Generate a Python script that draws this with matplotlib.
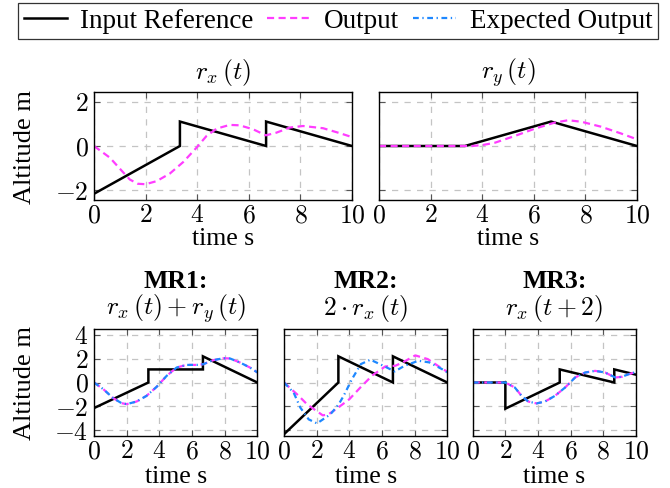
import matplotlib
matplotlib.use("Agg")
import matplotlib.pyplot as plt
from matplotlib.lines import Line2D

plt.rcParams["font.family"] = ["Liberation Serif", "DejaVu Serif"]
plt.rcParams["mathtext.fontset"] = "cm"
FS = 18.5

BLACK = "black"
MAGENTA = "#ff3dff"
BLUE = "#1e88ff"

# --- data ---
# r_x(t): input sawtooth and system output
rx_in_t = [0, 3.33, 3.33, 6.67, 6.67, 10]
rx_in_v = [-2.15, 0, 1.1, 0, 1.1, 0]
rx_out_t = [0, 0.62, 1.0, 1.39, 1.7, 2.0, 2.43, 2.94, 3.46, 3.97, 4.36, 4.75,
            5.26, 5.65, 6.17, 6.66, 7.07, 7.59, 8.1, 8.88, 9.52, 10]
rx_out_v = [0, -0.53, -1.02, -1.51, -1.70, -1.72, -1.58, -1.24, -0.72, -0.08, 0.45, 0.78,
            0.95, 0.93, 0.75, 0.48, 0.60, 0.83, 0.90, 0.80, 0.58, 0.40]

# r_y(t)
ry_in_t = [0, 3.33, 6.67, 10]
ry_in_v = [0, 0, 1.1, 0]
ry_out_t = [0, 3.6, 4.0, 4.5, 5.26, 6.04, 6.8, 7.33, 7.85, 8.6, 9.39, 10]
ry_out_v = [0, 0, 0.04, 0.15, 0.45, 0.78, 1.05, 1.16, 1.09, 0.87, 0.56, 0.30]

# MR1: r_x(t) + r_y(t)
mr1_in_t = [0, 3.33, 3.33, 6.67, 6.67, 10]
mr1_in_v = [-2.15, 0, 1.1, 1.1, 2.2, 0]
mr1_out_t = [0, 0.57, 1.18, 1.69, 2.0, 2.61, 3.22, 3.84, 4.45, 5.06, 5.67, 6.29,
             6.69, 7.31, 7.92, 8.33, 8.94, 9.55, 10]
mr1_out_v = [0, -0.56, -1.32, -1.74, -1.82, -1.6, -1.12, -0.36, 0.56, 1.26, 1.48, 1.48,
             1.54, 1.88, 2.04, 2.02, 1.68, 1.26, 0.85]
mr1_exp_t = mr1_out_t
mr1_exp_v = mr1_out_v

# MR2: 2 * r_x(t)
mr2_in_t = [0, 3.33, 3.33, 6.67, 6.67, 10]
mr2_in_v = [-4.35, 0, 2.2, 0, 2.2, 0]
mr2_out_t = [0, 0.86, 1.41, 2.37, 2.7, 3.18, 4.0, 4.73, 5.43, 6.2, 6.82, 7.27,
             8.04, 8.8, 9.67, 10]
mr2_out_v = [0, -1.07, -1.83, -2.76, -2.7, -2.25, -1.41, -0.34, 0.62, 1.35, 1.41, 1.69,
             2.28, 1.97, 1.18, 0.9]
mr2_exp_t = [0, 0.59, 1.0, 1.51, 2.02, 2.84, 3.35, 3.65, 4.16, 4.71, 5.29, 6.0,
             6.78, 7.39, 8.24, 8.9, 9.67, 10]
mr2_exp_v = [0, -0.85, -2.11, -3.1, -3.44, -2.68, -1.83, -1.13, 0.28, 1.55, 1.92, 1.46,
             0.93, 1.41, 1.83, 1.69, 1.13, 0.85]

# MR3: r_x(t + 2)
mr3_in_t = [0, 2, 2, 5.33, 5.33, 8.67, 8.67, 10]
mr3_in_v = [0, 0, -2.2, 0, 1.1, 0, 1.1, 0.66]
mr3_out_t = [0, 2.0, 2.58, 2.99, 3.4, 3.91, 4.43, 5.04, 5.66, 6.27, 6.89, 7.5,
             8.11, 8.73, 9.14, 9.55, 10]
mr3_out_v = [0, 0, -0.42, -1.12, -1.6, -1.76, -1.6, -1.12, -0.42, 0.42, 0.84, 0.98,
             0.84, 0.42, 0.48, 0.7, 0.88]
mr3_exp_t = mr3_out_t
mr3_exp_v = mr3_out_v

x_ticks = [0, 2, 4, 6, 8, 10]
y_ticks_top = [-2, 0, 2]
y_ticks_bot = [-4, -2, 0, 2, 4]

W, H = 670, 489
fig = plt.figure(figsize=(W / 100, H / 100), dpi=100)


def px_axes(x0, x1, y0, y1):
    return fig.add_axes([x0 / W, 1 - y1 / H, (x1 - x0) / W, (y1 - y0) / H])


def tick_label(v):
    return "$%d$" % v if v >= 0 else "$-%d$" % (-v)


def style(ax, yticks, ylim, show_y):
    ax.set_xlim(0, 10)
    ax.set_ylim(*ylim)
    ax.set_xticks(x_ticks)
    ax.set_xticklabels([tick_label(v) for v in x_ticks], fontsize=FS)
    ax.set_yticks(yticks)
    if show_y:
        ax.set_yticklabels([tick_label(v) for v in yticks], fontsize=FS)
    else:
        ax.set_yticklabels([])
    ax.tick_params(direction="in", length=4, width=0.8, color="#555555",
                   top=True, right=True, pad=4)
    ax.tick_params(axis="x", pad=3)
    ax.grid(True, color="#c4c4c4", linestyle=(0, (5, 5)), linewidth=0.9)
    ax.set_axisbelow(True)
    for s in ax.spines.values():
        s.set_linewidth(1.0)


def draw(ax, in_t, in_v, out_t, out_v, exp_t=None, exp_v=None):
    ax.plot(in_t, in_v, color=BLACK, lw=1.8, solid_joinstyle="miter")
    ax.plot(out_t, out_v, color=MAGENTA, lw=1.6, dashes=(3.2, 2))
    if exp_t is not None:
        ax.plot(exp_t, exp_v, color=BLUE, lw=1.6, dashes=(2.6, 1.6, 0.6, 1.6))


top_ylim = (-2.43, 2.43)
bot_ylim = (-4.5, 4.5)

ax1 = px_axes(94, 352, 93, 201)
ax2 = px_axes(379, 637, 93, 201)
draw(ax1, rx_in_t, rx_in_v, rx_out_t, rx_out_v)
draw(ax2, ry_in_t, ry_in_v, ry_out_t, ry_out_v)
style(ax1, y_ticks_top, top_ylim, True)
style(ax2, y_ticks_top, top_ylim, False)
ax1.text(0.5, 1.19, r"$r_x\,(t)$", transform=ax1.transAxes, ha="center", va="center", fontsize=FS)
ax2.text(0.5, 1.19, r"$r_y\,(t)$", transform=ax2.transAxes, ha="center", va="center", fontsize=FS)

ax3 = px_axes(94, 257.3, 330, 437)
ax4 = px_axes(284, 447.3, 330, 437)
ax5 = px_axes(472.7, 636, 330, 437)
draw(ax3, mr1_in_t, mr1_in_v, mr1_out_t, mr1_out_v, mr1_exp_t, mr1_exp_v)
draw(ax4, mr2_in_t, mr2_in_v, mr2_out_t, mr2_out_v, mr2_exp_t, mr2_exp_v)
draw(ax5, mr3_in_t, mr3_in_v, mr3_out_t, mr3_out_v, mr3_exp_t, mr3_exp_v)
style(ax3, y_ticks_bot, bot_ylim, True)
style(ax4, y_ticks_bot, bot_ylim, False)
style(ax5, y_ticks_bot, bot_ylim, False)

titles = [("MR1:", r"$r_x\,(t) + r_y\,(t)$"),
          ("MR2:", r"$2 \cdot r_x\,(t)$"),
          ("MR3:", r"$r_x\,(t + 2)$")]
for ax, (head, expr) in zip([ax3, ax4, ax5], titles):
    ax.text(0.5, 1.45, head, transform=ax.transAxes, ha="center", va="center",
            fontsize=FS, fontweight="bold")
    ax.text(0.5, 1.20, expr, transform=ax.transAxes, ha="center", va="center", fontsize=FS)

for ax in [ax1, ax2]:
    ax.text(0.5, -0.355, "time s", transform=ax.transAxes, ha="center", va="center", fontsize=FS)
for ax in [ax3, ax4, ax5]:
    ax.text(0.5, -0.37, "time s", transform=ax.transAxes, ha="center", va="center", fontsize=FS)

fig.text(25 / W, 1 - 147 / H, "Altitude m", rotation=90, ha="center", va="center", fontsize=FS + 0.5)
fig.text(25 / W, 1 - 383 / H, "Altitude m", rotation=90, ha="center", va="center", fontsize=FS + 0.5)

handles = [Line2D([], [], color=BLACK, lw=1.8),
           Line2D([], [], color=MAGENTA, lw=1.6, dashes=(3.2, 2)),
           Line2D([], [], color=BLUE, lw=1.6, dashes=(2.6, 1.6, 0.6, 1.6))]
labels = ["Input Reference", "Output", "Expected Output"]
leg = fig.legend(handles, labels, loc="center", bbox_to_anchor=(338 / W, 1 - 22 / H),
                 ncol=3, fontsize=19.5, frameon=True, fancybox=False, edgecolor="black",
                 handlelength=1.6, handletextpad=0.5, columnspacing=0.5,
                 borderpad=0.22, borderaxespad=0)
leg.get_frame().set_linewidth(0.9)

fig.savefig("out.png", dpi=100)
